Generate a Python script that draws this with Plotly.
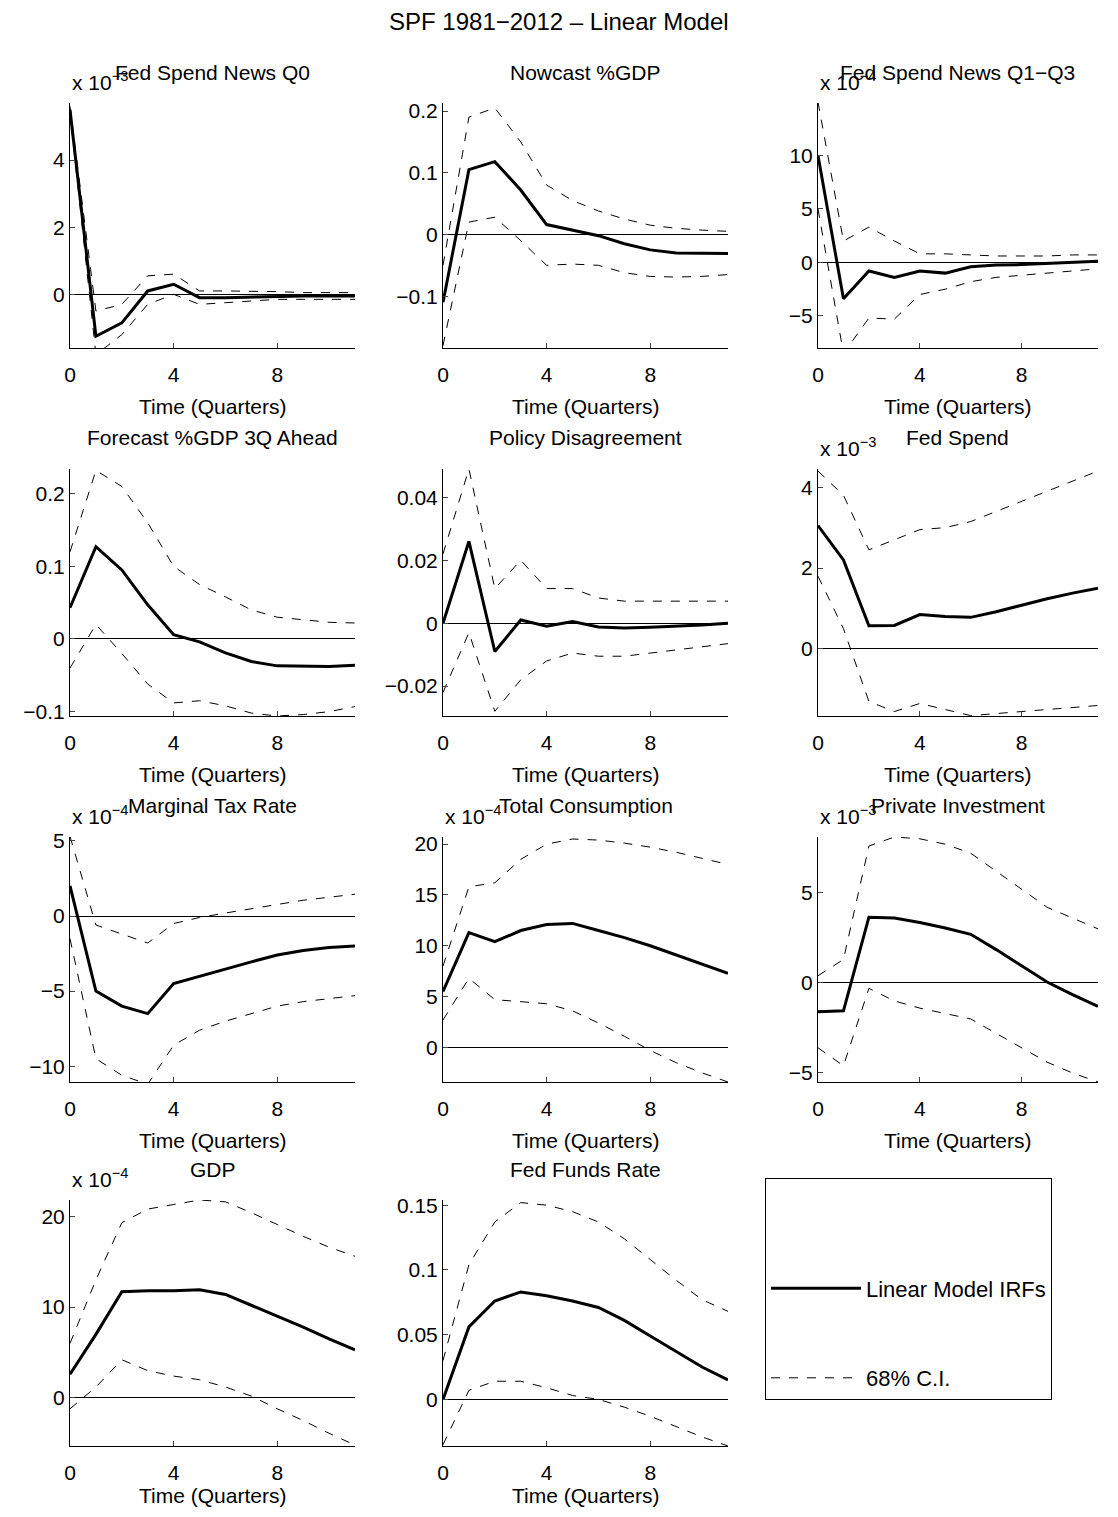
import plotly.graph_objects as go

W, H = 1118, 1517
OFF = 8  # page body margin
quarters = list(range(12))

titles = ["Fed Spend News Q0", "Nowcast %GDP", "Fed Spend News Q1\u2212Q3",
          "Forecast %GDP 3Q Ahead", "Policy Disagreement", "Fed Spend",
          "Marginal Tax Rate", "Total Consumption", "Private Investment",
          "GDP", "Fed Funds Rate"]
exponents = [-3, None, -4, None, None, -3, -4, -4, -3, -4, None]

# values as displayed on each panel's axis (i.e. already multiplied by 10^-exponent)
irf = [
    [5.5, -1.25, -0.85, 0.1, 0.3, -0.1, -0.1, -0.08, -0.06, -0.05, -0.05, -0.05],
    [-0.11, 0.105, 0.118, 0.072, 0.016, 0.007, -0.002, -0.015, -0.025, -0.030, -0.031, -0.031],
    [10, -3.4, -0.8, -1.4, -0.8, -1.0, -0.4, -0.25, -0.2, -0.1, 0.0, 0.1],
    [0.043, 0.127, 0.095, 0.047, 0.006, -0.004, -0.019, -0.031, -0.037, -0.038, -0.038, -0.036],
    [0.0, 0.026, -0.009, 0.001, -0.001, 0.0005, -0.0012, -0.0015, -0.0013, -0.001, -0.0006, 0.0],
    [3.05, 2.2, 0.57, 0.58, 0.85, 0.8, 0.78, 0.92, 1.08, 1.24, 1.38, 1.5],
    [2, -5, -6, -6.5, -4.5, -4, -3.5, -3.05, -2.6, -2.3, -2.1, -2.0],
    [5.5, 11.3, 10.4, 11.5, 12.1, 12.2, 11.5, 10.8, 10, 9.1, 8.2, 7.3],
    [-1.6, -1.55, 3.65, 3.6, 3.35, 3.05, 2.7, 1.85, 0.95, 0.05, -0.65, -1.3],
    [2.6, 7, 11.7, 11.8, 11.8, 11.9, 11.4, 10.2, 9, 7.8, 6.5, 5.3],
    [0, 0.056, 0.076, 0.083, 0.080, 0.076, 0.071, 0.061, 0.049, 0.037, 0.025, 0.015],
]
upper = [
    [5.6, -0.5, -0.3, 0.55, 0.6, 0.1, 0.1, 0.1, 0.08, 0.05, 0.05, 0.05],
    [-0.05, 0.19, 0.205, 0.15, 0.08, 0.055, 0.038, 0.025, 0.015, 0.01, 0.007, 0.005],
    [15, 2, 3.3, 2.0, 0.8, 0.8, 0.7, 0.6, 0.6, 0.6, 0.7, 0.7],
    [0.12, 0.232, 0.21, 0.16, 0.1, 0.075, 0.058, 0.04, 0.03, 0.026, 0.023, 0.022],
    [0.022, 0.049, 0.011, 0.02, 0.011, 0.011, 0.008, 0.007, 0.007, 0.007, 0.007, 0.007],
    [4.4, 3.8, 2.45, 2.7, 2.95, 3.0, 3.15, 3.4, 3.65, 3.9, 4.15, 4.4],
    [5.3, -0.6, -1.2, -1.8, -0.5, -0.1, 0.2, 0.5, 0.8, 1.05, 1.25, 1.45],
    [8, 15.8, 16.2, 18.5, 20, 20.5, 20.4, 20.1, 19.7, 19.2, 18.6, 18],
    [0.4, 1.3, 7.6, 8.1, 8.0, 7.7, 7.2, 6.2, 5.2, 4.2, 3.6, 3.0],
    [6, 13, 19.3, 20.8, 21.3, 21.8, 21.6, 20.4, 19.1, 17.8, 16.6, 15.6],
    [0.03, 0.104, 0.137, 0.152, 0.15, 0.145, 0.137, 0.124, 0.108, 0.092, 0.077, 0.068],
]
lower = [
    [5.4, -1.8, -1.2, -0.3, 0.0, -0.3, -0.25, -0.2, -0.15, -0.15, -0.15, -0.15],
    [-0.18, 0.02, 0.028, -0.01, -0.05, -0.048, -0.05, -0.062, -0.068, -0.069, -0.068, -0.065],
    [5, -8.5, -5.2, -5.3, -3, -2.5, -1.8, -1.4, -1.2, -1.0, -0.8, -0.6],
    [-0.04, 0.02, -0.02, -0.062, -0.088, -0.085, -0.092, -0.102, -0.106, -0.104, -0.1, -0.093],
    [-0.022, -0.003, -0.028, -0.018, -0.012, -0.0095, -0.0105, -0.0105, -0.0095, -0.0085, -0.0075, -0.0065],
    [1.8, 0.5, -1.3, -1.55, -1.35, -1.5, -1.65, -1.6, -1.55, -1.5, -1.45, -1.4],
    [-1.5, -9.5, -10.6, -11.2, -8.6, -7.6, -7.0, -6.5, -6.0, -5.7, -5.5, -5.3],
    [2.7, 6.8, 4.7, 4.5, 4.3, 3.6, 2.4, 1.1, -0.3, -1.5, -2.5, -3.4],
    [-3.6, -4.6, -0.3, -1.0, -1.4, -1.7, -2.0, -2.8, -3.6, -4.4, -5.0, -5.5],
    [-1.2, 1.2, 4.2, 3.0, 2.4, 2.0, 1.2, 0.2, -1.2, -2.5, -3.9, -5.2],
    [-0.035, 0.007, 0.014, 0.014, 0.009, 0.003, 0.0, -0.006, -0.013, -0.021, -0.029, -0.036],
]
yranges = [[-1.6, 5.7], [-0.184, 0.213], [-8.0, 14.9], [-0.106, 0.234], [-0.0295, 0.049],
           [-1.66, 4.45], [-11.05, 5.26], [-3.4, 20.7], [-5.5, 8.1], [-5.3, 21.8], [-0.036, 0.154]]
yticks = [[0, 2, 4], [-0.1, 0, 0.1, 0.2], [-5, 0, 5, 10], [-0.1, 0, 0.1, 0.2],
          [-0.02, 0, 0.02, 0.04], [0, 2, 4], [-10, -5, 0, 5], [0, 5, 10, 15, 20],
          [-5, 0, 5], [0, 10, 20], [0, 0.05, 0.1, 0.15]]

cols_px = [(70, 355), (443, 728), (818, 1098)]
rows_px = [(103, 348), (469, 716), (837, 1082), (1200, 1446)]

FW, FH = W - 2 * OFF, H - 2 * OFF


def px(x):
    return (x - OFF) / FW


def py(y):
    return 1 - (y - OFF) / FH


font = "Liberation Sans, Arial, sans-serif"
fig = go.Figure()
ann = []
for i in range(11):
    r, c = divmod(i, 3)
    x0, x1 = cols_px[c]
    t, b = rows_px[r]
    sfx = "" if i == 0 else str(i + 1)
    fig.add_trace(go.Scatter(x=quarters, y=upper[i], mode="lines", xaxis="x" + sfx, yaxis="y" + sfx,
                             line=dict(color="black", width=1, dash="dash"), legendrank=2,
                             name="68% C.I.", legendgroup="ci", showlegend=(i == 0)))
    fig.add_trace(go.Scatter(x=quarters, y=lower[i], mode="lines", xaxis="x" + sfx, yaxis="y" + sfx,
                             line=dict(color="black", width=1, dash="dash"), showlegend=False))
    fig.add_trace(go.Scatter(x=quarters, y=irf[i], mode="lines", xaxis="x" + sfx, yaxis="y" + sfx,
                             line=dict(color="black", width=3), legendrank=1,
                             name="Linear Model IRFs", legendgroup="irf", showlegend=(i == 0)))
    ax = dict(domain=[px(x0), px(x1)], range=[0, 11], tickvals=[0, 4, 8], ticks="inside",
              ticklen=5, showgrid=False, zeroline=False, showline=True, linecolor="black",
              ticklabelstandoff=8,
              tickfont=dict(size=21, color="black"), anchor="y" + sfx, automargin=False)
    ay = dict(domain=[py(b), py(t)], range=yranges[i], tickvals=yticks[i],
              ticktext=[("\u2212" + f"{abs(v):g}") if v < 0 else f"{v:g}" for v in yticks[i]],
              ticks="inside", ticklen=5, showgrid=False, zeroline=True, zerolinecolor="black",
              zerolinewidth=1, showline=True, linecolor="black", automargin=False,
              tickfont=dict(size=21, color="black"), anchor="x" + sfx)
    fig.update_layout(**{"xaxis" + sfx: ax, "yaxis" + sfx: ay})
    ann.append(dict(text=titles[i], x=px((x0 + x1) / 2), y=py(t - 31), xref="paper",
                    yref="paper", xanchor="center", yanchor="middle", showarrow=False,
                    font=dict(size=21, color="black")))
    if r < 3:
        ann.append(dict(text="Time (Quarters)", x=px((x0 + x1) / 2), y=py(b + 58), xref="paper",
                        yref="paper", xanchor="center", yanchor="middle", showarrow=False,
                        font=dict(size=21, color="black")))
    else:
        ann.append(dict(text="Time (Quarters)", x=px((x0 + x1) / 2), y=0, xref="paper",
                        yref="paper", xanchor="center", yanchor="bottom", showarrow=False,
                        font=dict(size=21, color="black")))
    if exponents[i] is not None:
        ann.append(dict(text=f"x 10<sup>\u2212{abs(exponents[i])}</sup>", x=px(x0), y=py(t - 22),
                        xref="paper", yref="paper", xanchor="left", yanchor="middle",
                        showarrow=False, font=dict(size=21, color="black")))

ann.append(dict(text="SPF 1981\u22122012 \u2013 Linear Model", x=0.5, y=py(22), xref="paper",
                yref="paper", xanchor="center", yanchor="middle", showarrow=False,
                font=dict(size=24, color="black")))

fig.update_layout(
    width=FW, height=FH, margin=dict(l=0, r=0, t=0, b=0), paper_bgcolor="white",
    plot_bgcolor="white", font=dict(family=font, color="black"), annotations=ann,
    legend=dict(x=px(765), y=py(1178), xanchor="left", yanchor="top", bordercolor="black",
                borderwidth=1, font=dict(size=22), traceorder="grouped", tracegroupgap=58,
                itemwidth=90, entrywidth=330, valign="middle",
                title=dict(text=" <br> ", font=dict(size=34))),
)
fig.write_html("out.html")
